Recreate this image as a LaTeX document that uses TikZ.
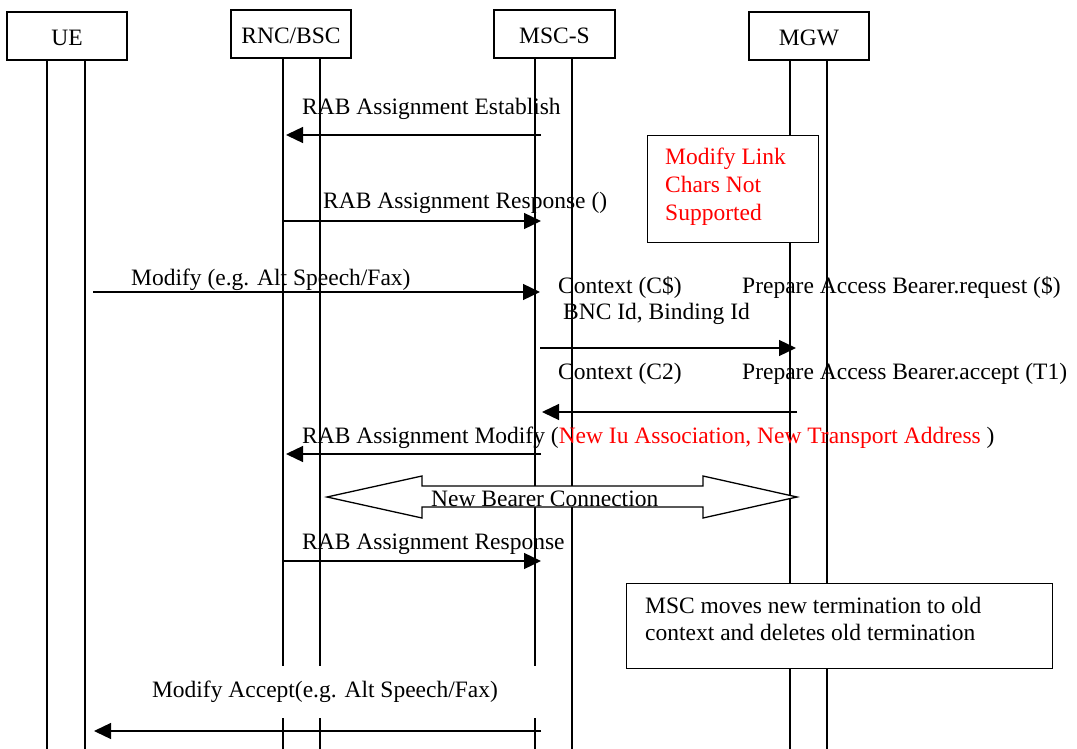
\documentclass[tikz,border=0pt]{standalone}
\usepackage{fontspec}
\setmainfont{Liberation Serif}
\usetikzlibrary{arrows.meta}
\begin{document}
\begin{tikzpicture}[x=1pt,y=-1pt,
  every node/.style={font=\fontsize{23.5pt}{27.5pt}\selectfont, inner sep=0pt},
  hdr/.style={draw, line width=1.3pt, fill=white, text height=20pt, text depth=0pt},
  life/.style={line width=1.3pt},
  msg/.style={line width=1.3pt, -{Triangle[length=17pt,width=16pt]}},
  notebox/.style={draw, line width=1.3pt, fill=white},
  lbl/.style={anchor=base west},
  redtxt/.style={anchor=base west, text=red}]
\useasboundingbox (0,0) rectangle (1077,749);

% lifelines (two per entity)
\foreach \lx/\ly in {47/60, 85/60, 283/58, 320/58, 535/58, 572/58, 790/60, 827/60}
  \draw[life] (\lx,\ly) -- (\lx,749);

% entity headers
\node[hdr, minimum width=120pt, minimum height=48pt] (ue)  at (67,36)    {UE};
\node[hdr, minimum width=120pt, minimum height=48pt] (rnc) at (291,34)   {RNC/BSC};
\node[hdr, minimum width=121pt, minimum height=48pt] (msc) at (554.5,34) {MSC-S};
\node[hdr, minimum width=120pt, minimum height=48pt] (mgw) at (809,36)   {MGW};

% note: link characteristics not supported
\node[notebox, minimum width=171pt, minimum height=107pt, anchor=north west] (mlc) at (647,135) {};
\node[redtxt] (mlc1) at (665,165) {Modify Link};
\node[redtxt] (mlc2) at (665,193) {Chars Not};
\node[redtxt] (mlc3) at (665,220) {Supported};

% note: termination moved
\node[notebox, minimum width=426pt, minimum height=85pt, anchor=north west] (mv) at (626,583) {};
\node[lbl] (mv1) at (645,613) {MSC moves new termination to old};
\node[lbl] (mv2) at (645,640) {context and deletes old termination};

% RAB Assignment Establish
\coordinate (e1s) at (541,135); \coordinate (e1e) at (286,135);
\draw[msg] (e1s) -- (e1e);
\node[lbl] (t1) at (302,115) {RAB Assignment Establish};

% RAB Assignment Response ()
\coordinate (e2s) at (283,221); \coordinate (e2e) at (541,221);
\draw[msg] (e2s) -- (e2e);
\node[lbl] (t2) at (323,208) {RAB Assignment Response ()};

% Modify
\coordinate (e3s) at (93,292); \coordinate (e3e) at (540,292);
\draw[msg] (e3s) -- (e3e);
\node[lbl] (t3) at (131,285) {Modify (e.g. Alt Speech/Fax)};

% Prepare Access Bearer request
\node[lbl] (t4a) at (558,293) {Context (C\$)};
\node[lbl] (t4b) at (742,293) {Prepare Access Bearer.request (\$)};
\node[lbl] (t4c) at (563,319) {BNC Id, Binding Id};
\coordinate (e4s) at (540,348); \coordinate (e4e) at (796,348);
\draw[msg] (e4s) -- (e4e);

% Prepare Access Bearer accept
\node[lbl] (t5a) at (558,379) {Context (C2)};
\node[lbl] (t5b) at (742,379) {Prepare Access Bearer.accept (T1)};
\coordinate (e5s) at (797,412); \coordinate (e5e) at (542,412);
\draw[msg] (e5s) -- (e5e);

% RAB Assignment Modify
\node[lbl] (t6) at (302,443) {RAB Assignment Modify (\textcolor{red}{New Iu Association, New Transport Address} )};
\coordinate (e6s) at (541,454); \coordinate (e6e) at (286,454);
\draw[msg] (e6s) -- (e6e);

% new bearer connection (hollow double arrow)
\draw[line width=1.3pt, fill=white, line join=miter]
  (327,497) -- (422,476) -- (422,486) -- (703,486) -- (703,476) -- (797,497)
  -- (703,518) -- (703,507) -- (422,507) -- (422,518) -- cycle;
\node[lbl] (t7) at (431,506) {New Bearer Connection};

% RAB Assignment Response
\node[lbl] (t8) at (302,549) {RAB Assignment Response};
\coordinate (e8s) at (283,561); \coordinate (e8e) at (541,561);
\draw[msg] (e8s) -- (e8e);

% Modify Accept
\node[fill=white, minimum width=440pt, minimum height=52pt] (t9) at (325,692) {Modify Accept(e.g. Alt Speech/Fax)};
\coordinate (e9s) at (541,731); \coordinate (e9e) at (94,731);
\draw[msg] (e9s) -- (e9e);
\end{tikzpicture}
\end{document}
